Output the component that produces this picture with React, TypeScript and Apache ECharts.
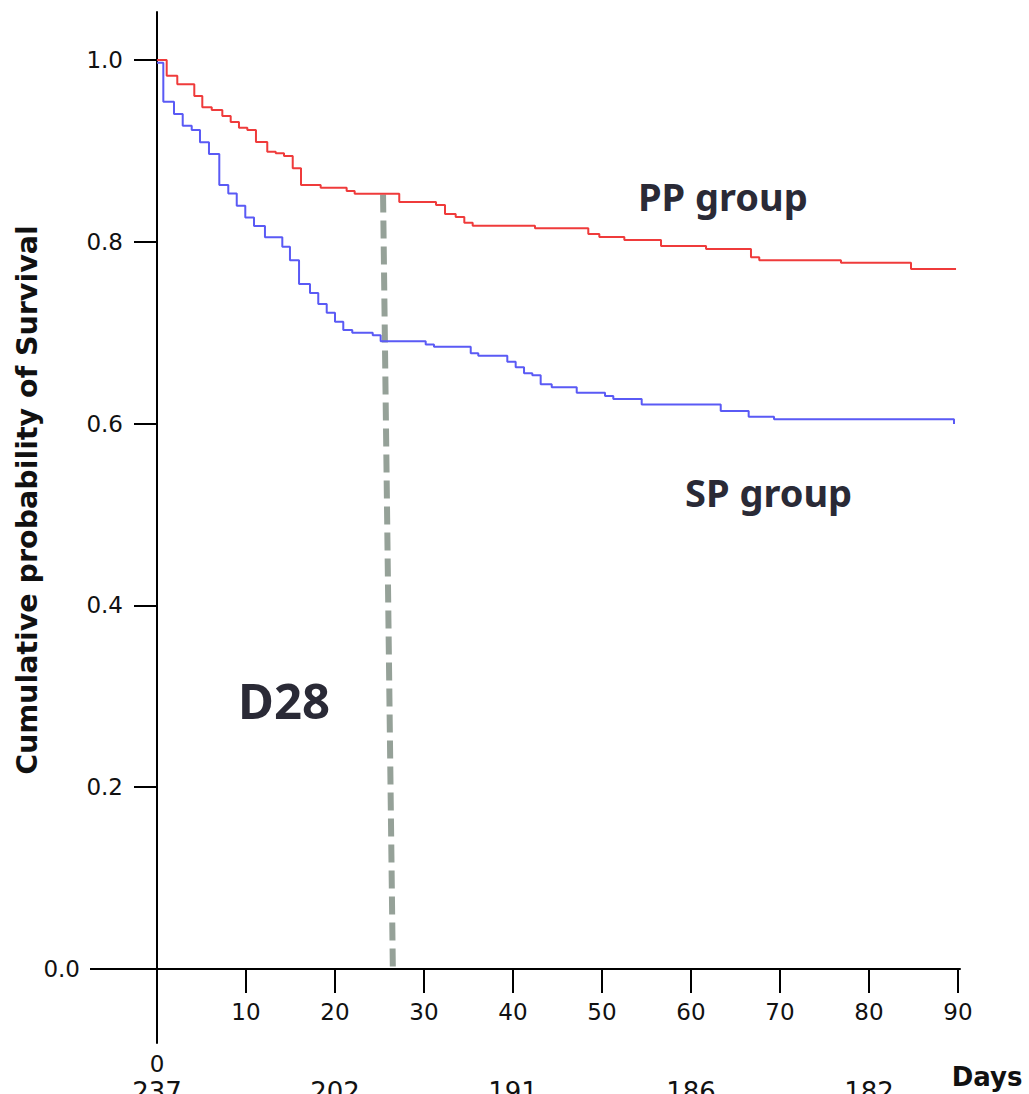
import { useEffect, useRef } from "react";
import * as echarts from "echarts";

// ---- data ----
const xTickValues = [10, 20, 30, 40, 50, 60, 70, 80, 90];
const yTickValues = [0.2, 0.4, 0.6, 0.8, 1.0];
const riskDays = [0, 20, 40, 60, 80];
const riskCounts = [237, 202, 191, 186, 182];

// PP group Kaplan-Meier steps [day, survival]
const ppDays = [0, 1.09, 2.28, 4.19, 5.09, 6.15, 7.34, 8.28, 9.21, 10.15, 11.12, 12.39, 13.34, 14.27, 15.25, 16.18, 18.39, 21.31, 22.21, 27.22, 31.35, 32.36, 33.56, 34.53, 35.47, 42.47, 48.46, 49.7, 52.51, 56.63, 61.69, 66.74, 67.67, 76.85, 84.72, 89.78];
const ppSurv = [1.0, 0.9827, 0.9733, 0.9604, 0.948, 0.945, 0.9384, 0.9318, 0.9255, 0.923, 0.9098, 0.8991, 0.8973, 0.8944, 0.8809, 0.8625, 0.8595, 0.8559, 0.8529, 0.8438, 0.8405, 0.8306, 0.8273, 0.821, 0.8177, 0.8148, 0.8086, 0.8053, 0.802, 0.7954, 0.7921, 0.783, 0.7796, 0.777, 0.7701, 0.7701];

// SP group Kaplan-Meier steps [day, survival]
const spDays = [0, 0.71, 1.91, 2.89, 3.9, 4.83, 5.84, 7.0, 8.01, 8.96, 9.92, 10.9, 12.13, 14.08, 14.94, 15.96, 17.19, 18.12, 19.07, 20.0, 20.93, 21.94, 24.24, 25.13, 30.19, 31.12, 35.25, 36.1, 39.36, 40.3, 41.24, 42.17, 43.11, 44.35, 47.16, 50.34, 51.27, 54.46, 63.34, 66.48, 69.33, 89.55];
const spSurv = [0.997, 0.9541, 0.9406, 0.9277, 0.923, 0.9095, 0.8966, 0.8625, 0.8531, 0.8397, 0.8267, 0.8174, 0.805, 0.7946, 0.7796, 0.7536, 0.7437, 0.7316, 0.722, 0.7121, 0.703, 0.7, 0.6971, 0.6905, 0.687, 0.6846, 0.6773, 0.6747, 0.6681, 0.6619, 0.6553, 0.6531, 0.6432, 0.6399, 0.634, 0.6304, 0.6271, 0.621, 0.6139, 0.6076, 0.6047, 0.5996];

// D28 dashed marker [day, survival]
const d28Days = [25.4, 26.5];
const d28Surv = [0.852, 0];

const zip = (a: number[], b: number[]) => a.map((v, i) => [v, b[i]]);

const TICK_FONT = "DejaVu Sans";
const BIG_FONT = "Noto Sans";

export default function App() {
  const ref = useRef<HTMLDivElement>(null);

  useEffect(() => {
    if (!ref.current) return;
    const chart = echarts.init(ref.current, undefined, { renderer: "svg" });

    const xRange = { min: -5.056, max: 90.225 };
    const yRange = { min: -0.0814, max: 1.0528 };
    const axisColor = "#000";
    const labelBase = { fontFamily: TICK_FONT, color: "#111" };

    chart.setOption({
      animation: false,
      backgroundColor: "#fff",
      grid: { left: 112, right: 69, top: 12, bottom: 51, containLabel: false, outerBoundsMode: "none" },
      xAxis: [
        {
          type: "value",
          position: "bottom",
          ...xRange,
          axisLine: { show: true, onZero: true, lineStyle: { color: axisColor, width: 2 } },
          axisTick: { show: true, length: 24, customValues: xTickValues, lineStyle: { color: axisColor, width: 2 } },
          axisLabel: { ...labelBase, customValues: xTickValues, margin: -43, fontSize: 23 },
          splitLine: { show: false },
        },
        {
          type: "value",
          position: "bottom",
          ...xRange,
          axisLine: { show: false, onZero: false },
          axisTick: { show: false },
          axisLabel: { ...labelBase, customValues: [0], margin: 9, fontSize: 23 },
          splitLine: { show: false },
        },
        {
          type: "value",
          position: "bottom",
          ...xRange,
          axisLine: { show: false, onZero: false },
          axisTick: { show: false },
          axisLabel: {
            ...labelBase,
            customValues: riskDays,
            formatter: (v: number) => {
              const i = riskDays.indexOf(Math.round(v));
              return i >= 0 ? String(riskCounts[i]) : "";
            },
            margin: 36,
            fontSize: 26,
          },
          splitLine: { show: false },
        },
      ],
      yAxis: [
        {
          type: "value",
          position: "left",
          ...yRange,
          axisLine: { show: true, onZero: true, lineStyle: { color: axisColor, width: 2 } },
          axisTick: { show: true, length: 23, customValues: yTickValues, lineStyle: { color: axisColor, width: 2 } },
          axisLabel: {
            ...labelBase,
            customValues: yTickValues,
            formatter: (v: number) => v.toFixed(1),
            margin: -11,
            fontSize: 23,
          },
          splitLine: { show: false },
        },
        {
          type: "value",
          position: "left",
          ...yRange,
          axisLine: { show: false, onZero: false },
          axisTick: { show: true, length: 22, customValues: [0], lineStyle: { color: axisColor, width: 2 } },
          axisLabel: {
            ...labelBase,
            customValues: [0],
            formatter: (v: number) => v.toFixed(1),
            margin: 32,
            fontSize: 23,
          },
          splitLine: { show: false },
        },
      ],
      series: [
        {
          name: "D28",
          type: "line",
          data: zip(d28Days, d28Surv),
          showSymbol: false,
          symbol: "none",
          z: 1,
          lineStyle: { color: "#95a198", width: 6, type: [18, 8], cap: "butt" },
          silent: true,
        },
        {
          name: "PP group",
          type: "line",
          step: "end",
          data: zip(ppDays, ppSurv),
          showSymbol: false,
          symbol: "none",
          z: 3,
          lineStyle: { color: "#ef3b3b", width: 2 },
          silent: true,
        },
        {
          name: "SP group",
          type: "line",
          step: "end",
          data: zip(spDays, spSurv),
          showSymbol: false,
          symbol: "none",
          z: 3,
          lineStyle: { color: "#5a5af5", width: 2 },
          silent: true,
        },
      ],
      graphic: [
        {
          type: "text",
          x: 638,
          y: 196,
          style: {
            text: "PP group",
            font: `bold 38px "${BIG_FONT}"`,
            fill: "#2a2a36",
            textAlign: "left",
            textVerticalAlign: "middle",
          },
        },
        {
          type: "text",
          x: 685,
          y: 492,
          style: {
            text: "SP group",
            font: `bold 38px "${BIG_FONT}"`,
            fill: "#2a2a36",
            textAlign: "left",
            textVerticalAlign: "middle",
          },
        },
        {
          type: "text",
          x: 284,
          y: 700,
          style: {
            text: "D28",
            font: `bold 49px "${BIG_FONT}"`,
            fill: "#2a2a36",
            textAlign: "center",
            textVerticalAlign: "middle",
          },
        },
        {
          type: "text",
          x: 987,
          y: 1077,
          style: {
            text: "Days",
            font: `bold 26px "${TICK_FONT}"`,
            fill: "#111",
            textAlign: "center",
            textVerticalAlign: "middle",
          },
        },
        {
          type: "text",
          x: 27,
          y: 500,
          rotation: Math.PI / 2,
          style: {
            text: "Cumulative probability of Survival",
            font: `bold 28.5px "${TICK_FONT}"`,
            fill: "#111",
            textAlign: "center",
            textVerticalAlign: "middle",
          },
        },
      ],
    });

    return () => chart.dispose();
  }, []);

  return (
    <div
      ref={ref}
      style={{ position: "fixed", left: 0, top: 0, width: 1029, height: 1094, background: "#fff" }}
    />
  );
}
